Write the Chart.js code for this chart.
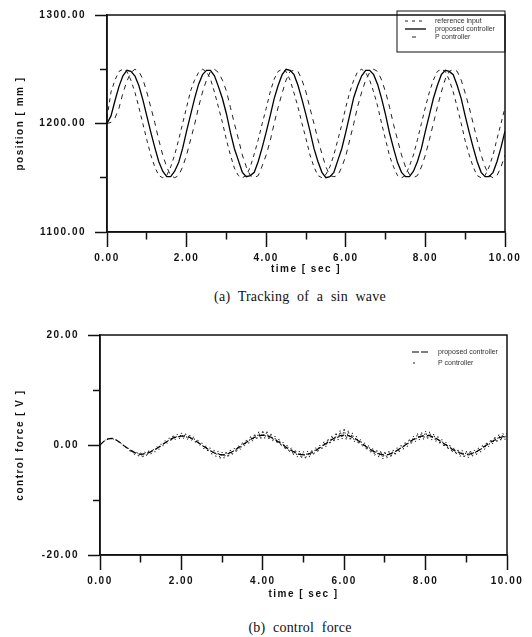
<!DOCTYPE html>
<html>
<head>
<meta charset="utf-8">
<script src="https://cdn.jsdelivr.net/npm/chart.js@4.4.1/dist/chart.umd.min.js"></script>
<style>
  html, body { margin: 0; padding: 0; background: #fff; }
  #wrap { position: relative; width: 532px; height: 637px; overflow: hidden; }
  canvas { position: absolute; left: 0; }
  .caption {
    position: absolute; left: 0; width: 600px; text-align: center;
    font: 14px "Liberation Serif", "DejaVu Serif", serif; color: #111;
    word-spacing: 4px; letter-spacing: 0.2px; line-height: 16px;
  }
</style>
</head>
<body>
<div id="wrap">
  <canvas id="trackChart" width="532" height="280" style="top:0"></canvas>
  <div class="caption" style="top:289px">(a) Tracking of a sin wave</div>
  <canvas id="forceChart" width="532" height="285" style="top:320px"></canvas>
  <div class="caption" style="top:620px">(b) control force</div>
</div>
<script>
// sampling steps [sec]
const posStep = 0.1
const forceStep = 0.05

// (a) position [mm], t = 0.0 .. 10.0
const referenceInput = [
  1205,1229,1240,1248,1250,1248,1240,1229,1215,1200,1185,1171,1160,1152,1150,1152,1160,1171,1185,1200,
  1215,1230,1240,1247,1250,1248,1241,1229,1215,1201,1185,1171,1159,1152,1150,1152,1160,1172,1185,1200,
  1214,1229,1241,1248,1250,1248,1240,1228,1215,1200,1186,1171,1160,1152,1150,1153,1160,1171,1185,1199,
  1215,1229,1240,1248,1250,1247,1240,1229,1216,1200,1185,1170,1160,1152,1150,1152,1161,1171,1185,1200,
  1215,1229,1240,1248,1250,1248,1240,1229,1215,1200,1184,1171,1160,1152,1150,1152,1160,1171,1186,1200,
  1215
]
const proposedPos = [
  1200,1207,1221,1234,1244,1249,1248,1244,1235,1222,1207,1192,1178,1165,1156,1151,1151,1156,1164,1177,
  1193,1208,1223,1236,1245,1249,1249,1244,1234,1223,1209,1192,1177,1166,1155,1151,1152,1155,1165,1178,
  1192,1207,1223,1235,1245,1250,1249,1245,1235,1222,1208,1193,1177,1165,1155,1150,1151,1155,1166,1177,
  1192,1208,1224,1235,1244,1249,1249,1245,1236,1223,1208,1191,1177,1164,1155,1151,1151,1156,1165,1177,
  1193,1208,1223,1235,1245,1249,1248,1245,1235,1223,1207,1192,1178,1165,1155,1151,1151,1155,1165,1178,
  1193
]
const pControlPos = [
  1200,1201,1205,1214,1228,1239,1247,1250,1248,1241,1229,1215,1201,1185,1171,1160,1152,1150,1152,1160,
  1171,1185,1199,1215,1229,1240,1248,1250,1247,1240,1230,1215,1200,1186,1171,1160,1152,1150,1152,1161,
  1171,1184,1200,1215,1228,1240,1248,1249,1248,1240,1229,1214,1200,1185,1172,1160,1152,1151,1152,1160,
  1170,1185,1200,1216,1229,1240,1247,1250,1248,1240,1229,1215,1199,1185,1171,1160,1153,1150,1152,1160,
  1171,1185,1200,1215,1229,1241,1248,1250,1248,1240,1228,1215,1200,1185,1171,1160,1152,1150,1152,1160,
  1171
]

// (b) control force [V]
const proposedForce = [
  0.0,0.7,1.1,1.2,0.9,0.4,-0.2,-0.7,-1.2,-1.5,
  -1.7,-1.6,-1.4,-1.0,-0.6,-0.1,0.4,0.9,1.3,1.5,
  1.6,1.6,1.4,1.0,0.5,0.0,-0.5,-1.0,-1.4,-1.7,
  -1.8,-1.7,-1.4,-1.0,-0.5,0.0,0.5,1.0,1.4,1.7,
  1.8,1.7,1.4,1.0,0.5,0.0,-0.6,-1.0,-1.4,-1.7,
  -1.8,-1.7,-1.4,-1.0,-0.5,0.0,0.5,1.0,1.4,1.7,
  1.8,1.7,1.4,1.0,0.5,-0.1,-0.6,-1.1,-1.4,-1.7,
  -1.8,-1.7,-1.4,-1.0,-0.5,0.0,0.5,1.0,1.4,1.6,
  1.7,1.7,1.4,1.0,0.5,0.0,-0.5,-1.0,-1.3,-1.6,
  -1.7,-1.6,-1.4,-1.0,-0.5,0.0,0.5,0.9,1.3,1.5,
  1.6
]
const pControlForce = [
  0.0,0.4,0.7,1.0,1.1,1.2,1.2,1.0,0.9,0.6,
  0.4,0.1,-0.2,-0.5,-0.6,-1.3,-0.9,-1.8,-1.2,-2.1,
  -1.4,-2.3,-1.2,-2.0,-1.0,-1.7,-0.7,-1.3,-0.3,-0.8,
  0.2,-0.2,0.8,0.3,1.3,0.7,1.8,1.0,2.0,1.1,
  2.2,1.2,2.1,1.0,1.9,0.8,1.5,0.4,1.0,-0.1,
  0.4,-0.7,-0.1,-1.2,-0.5,-1.7,-0.9,-2.1,-1.1,-2.5,
  -1.3,-2.4,-1.2,-2.2,-0.9,-1.8,-0.6,-1.3,-0.1,-0.8,
  0.5,-0.2,1.0,0.3,1.6,0.7,2.0,1.0,2.4,1.1,
  2.6,1.2,2.5,1.0,2.1,0.7,1.6,0.3,1.1,-0.2,
  0.5,-0.8,0.0,-1.3,-0.5,-1.8,-0.9,-2.2,-1.1,-2.4,
  -1.2,-2.5,-1.1,-2.2,-0.9,-1.8,-0.5,-1.3,0.0,-0.8,
  0.6,-0.3,1.1,0.2,1.7,0.6,2.2,0.9,2.6,1.1,
  3.0,1.0,2.6,0.9,2.2,0.6,1.6,0.2,1.0,-0.3,
  0.4,-0.9,-0.1,-1.4,-0.6,-1.9,-0.9,-2.2,-1.1,-2.5,
  -1.2,-2.4,-1.1,-2.2,-0.9,-1.8,-0.5,-1.3,0.0,-0.8,
  0.5,-0.3,1.1,0.2,1.6,0.6,2.1,0.9,2.3,1.0,
  2.5,1.1,2.4,0.9,2.0,0.6,1.6,0.2,1.0,-0.3,
  0.5,-0.8,0.0,-1.3,-0.5,-1.7,-0.8,-2.1,-1.0,-2.3,
  -1.1,-2.3,-1.0,-2.1,-0.9,-1.8,-0.5,-1.3,0.0,-0.8,
  0.5,-0.3,1.0,0.2,1.5,0.5,1.9,0.8,2.1,1.0,
  2.2
]

const posTicks = { min: 1100, max: 1300, step: 50, labelEvery: 100 }
const forceTicks = { min: -20, max: 20, step: 10, labelEvery: 20 }
const timeTicks = { min: 0, max: 10, step: 1, labelEvery: 2 }

const INK = '#111'
const tickFont = { family: '"Liberation Sans", Arial, sans-serif', size: 10, weight: 'bold' }

function toPoints(values, dt) {
  return values.map((v, i) => ({ x: Math.round(i * dt * 100) / 100, y: v }))
}

function isMajor(value, every) {
  return Math.abs(value / every - Math.round(value / every)) < 1e-6
}

// draws the box round the plot area
const frame = {
  id: 'frame',
  beforeDraw(chart) {
    chart.ctx.letterSpacing = '1.5px'
  },
  afterDatasetsDraw(chart) {
    const { ctx, chartArea: a } = chart
    ctx.save()
    ctx.lineWidth = 1.5
    ctx.strokeStyle = INK
    ctx.strokeRect(a.left, a.top, a.right - a.left, a.bottom - a.top)
    ctx.restore()
  }
}

// small legend inside the plot
const insetLegend = {
  id: 'insetLegend',
  afterDraw(chart, args, opts) {
    const ctx = chart.ctx
    ctx.save()
    ctx.letterSpacing = '0px'
    if (opts.box) {
      ctx.lineWidth = 1
      ctx.strokeStyle = INK
      ctx.strokeRect(opts.box[0], opts.box[1], opts.box[2], opts.box[3])
    }
    ctx.font = '7px "Liberation Sans", Arial, sans-serif'
    ctx.fillStyle = '#333'
    ctx.textBaseline = 'middle'
    chart.data.datasets.forEach((ds, i) => {
      const y = opts.y + i * opts.row
      ctx.beginPath()
      ctx.setLineDash(ds.legendDash || ds.borderDash || [])
      ctx.lineWidth = ds.borderWidth
      ctx.strokeStyle = ds.borderColor
      ctx.moveTo(opts.x, y)
      ctx.lineTo(opts.x + opts.sample, y)
      ctx.stroke()
      ctx.setLineDash([])
      ctx.fillText(ds.label, opts.textX, y)
    })
    ctx.restore()
  }
}

function xAxis(height) {
  return {
    type: 'linear',
    min: timeTicks.min,
    max: timeTicks.max,
    afterFit: s => { s.height = height },
    border: { display: true, color: INK, width: 1.5 },
    grid: {
      drawOnChartArea: false,
      drawTicks: true,
      tickLength: 15,
      tickColor: INK,
      tickWidth: 1.5,
      tickBorderDash: c => (c.tick && !isMajor(c.tick.value, timeTicks.labelEvery)) ? [7, 30] : []
    },
    ticks: {
      stepSize: timeTicks.step,
      autoSkip: false,
      maxRotation: 0,
      padding: 5,
      color: INK,
      font: tickFont,
      callback: v => isMajor(v, timeTicks.labelEvery) ? v.toFixed(2) : ''
    },
    title: {
      display: true,
      text: 'time [ sec ]',
      color: INK,
      font: tickFont,
      padding: { top: 0, bottom: 5 }
    }
  }
}

function yAxis(width, t, label) {
  return {
    type: 'linear',
    min: t.min,
    max: t.max,
    afterFit: s => { s.width = width },
    border: { display: true, color: INK, width: 1.5 },
    grid: {
      drawOnChartArea: false,
      drawTicks: true,
      tickLength: 12,
      tickColor: INK,
      tickWidth: 1.5,
      tickBorderDash: c => (c.tick && !isMajor(c.tick.value, t.labelEvery)) ? [7, 5] : [],
      tickBorderDashOffset: c => (c.tick && !isMajor(c.tick.value, t.labelEvery)) ? 7 : 0
    },
    ticks: {
      stepSize: t.step,
      autoSkip: false,
      padding: 9,
      color: INK,
      font: tickFont,
      callback: v => isMajor(v, t.labelEvery) ? v.toFixed(2) : ''
    },
    title: {
      display: true,
      text: label,
      color: INK,
      font: tickFont,
      padding: { top: 14, bottom: 0 }
    }
  }
}

// (a) Tracking of a sin wave
new Chart(document.getElementById('trackChart'), {
  type: 'line',
  data: {
    datasets: [
      {
        label: 'reference input',
        data: toPoints(referenceInput, posStep),
        borderColor: '#222',
        borderWidth: 1,
        borderDash: [4, 4],
        legendDash: [3, 4]
      },
      {
        label: 'proposed controller',
        data: toPoints(proposedPos, posStep),
        borderColor: '#000',
        borderWidth: 1.3
      },
      {
        label: 'P controller',
        data: toPoints(pControlPos, posStep),
        borderColor: '#222',
        borderWidth: 1,
        borderDash: [5, 5],
        legendDash: [0, 7, 4, 20]
      }
    ]
  },
  options: {
    responsive: false,
    animation: false,
    parsing: false,
    elements: { point: { radius: 0 }, line: { tension: 0 } },
    layout: { padding: { top: 11, right: 27, left: 0, bottom: 0 } },
    plugins: {
      legend: { display: false },
      tooltip: { enabled: false },
      insetLegend: { box: [397, 11, 108, 41], x: 405, y: 21, row: 8, sample: 21, textX: 435 }
    },
    scales: {
      x: xAxis(48),
      y: yAxis(107, posTicks, 'position [ mm ]')
    }
  },
  plugins: [frame, insetLegend]
})

// (b) control force
new Chart(document.getElementById('forceChart'), {
  type: 'line',
  data: {
    datasets: [
      {
        label: 'proposed controller',
        data: toPoints(proposedForce, posStep),
        borderColor: '#000',
        borderWidth: 1.2,
        borderDash: [6, 3],
        legendDash: [7, 2]
      },
      {
        label: 'P controller',
        data: toPoints(pControlForce, forceStep),
        borderColor: '#222',
        borderWidth: 1,
        borderDash: [1.5, 1.5],
        legendDash: [0, 1, 2, 30]
      }
    ]
  },
  options: {
    responsive: false,
    animation: false,
    parsing: false,
    elements: { point: { radius: 0 }, line: { tension: 0 } },
    layout: { padding: { top: 14, right: 25, left: 0, bottom: 0 } },
    plugins: {
      legend: { display: false },
      tooltip: { enabled: false },
      insetLegend: { x: 412, y: 32, row: 11, sample: 16, textX: 438 }
    },
    scales: {
      x: xAxis(50),
      y: yAxis(100, forceTicks, 'control force [ V ]')
    }
  },
  plugins: [frame, insetLegend]
})
</script>
</body>
</html>
